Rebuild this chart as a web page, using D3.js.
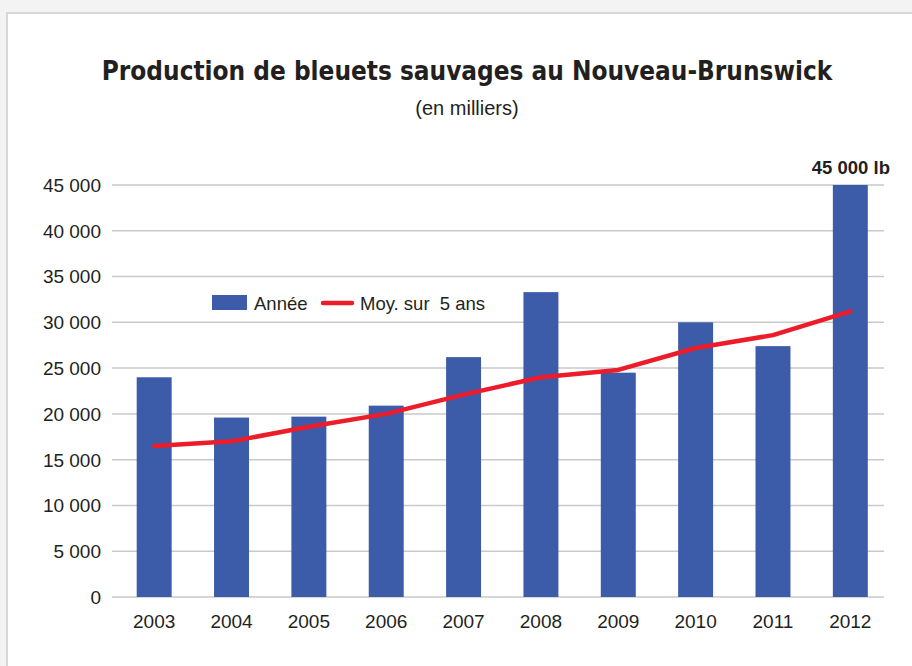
<!DOCTYPE html>
<html><head><meta charset="utf-8">
<script src="https://cdn.jsdelivr.net/npm/d3@7"></script>
<style>
html,body{margin:0;padding:0;background:#f3f3f4;}
svg{display:block;}
</style></head>
<body>
<svg id="chart" width="912" height="666"></svg>
<script>
const years = ["2003","2004","2005","2006","2007","2008","2009","2010","2011","2012"];
const annee = [24000,19600,19700,20900,26200,33300,24500,30000,27400,45000];
const moyenne = [16500,17000,18600,20000,22100,24000,24800,27200,28600,31200];
const yTicks = [0,5000,10000,15000,20000,25000,30000,35000,40000,45000];
const titleText = "Production de bleuets sauvages au Nouveau-Brunswick";
const subtitleText = "(en milliers)";
const topLabel = "45 000 lb";
const legendLabels = ["Année","Moy. sur  5 ans"];

const svg = d3.select("#chart");
// panel
svg.append("rect").attr("x",7).attr("y",13).attr("width",940).attr("height",700)
  .attr("fill","#ffffff").attr("stroke","#d6d7da").attr("stroke-width",2);

const x = d3.scaleBand().domain(years).range([115.5,889]).paddingInner(0.548).paddingOuter(0.274);
const y = d3.scaleLinear().domain([0,45000]).range([597,185]);
const fmt = v => d3.format(",")(v).replace(/,/g," ");

// grid
svg.append("g").selectAll("line").data(yTicks).join("line")
  .attr("x1",112).attr("x2",884)
  .attr("y1",d=>y(d)).attr("y2",d=>y(d))
  .attr("stroke","#c9c9c9").attr("stroke-width",1.5);

// y labels
svg.append("g").selectAll("text").data(yTicks).join("text")
  .attr("x",101).attr("y",d=>y(d)).attr("dy","0.36em")
  .attr("text-anchor","end")
  .attr("font-family","'Liberation Sans', Arial, sans-serif")
  .attr("font-size",19).attr("fill","#231f20")
  .text(d=>fmt(d));

// bars
svg.append("g").selectAll("rect").data(annee).join("rect")
  .attr("x",(d,i)=>x(years[i])).attr("width",x.bandwidth())
  .attr("y",d=>y(d)).attr("height",d=>y(0)-y(d))
  .attr("fill","#3c5ba8");

// line
const line = d3.line().x((d,i)=>x(years[i])+x.bandwidth()/2).y(d=>y(d));
svg.append("path").datum(moyenne).attr("d",line)
  .attr("fill","none").attr("stroke","#ec1c2a").attr("stroke-width",4.5)
  .attr("stroke-linecap","round").attr("stroke-linejoin","round");

// x labels
svg.append("g").selectAll("text").data(years).join("text")
  .attr("x",d=>x(d)+x.bandwidth()/2).attr("y",628)
  .attr("text-anchor","middle")
  .attr("font-family","'Liberation Sans', Arial, sans-serif")
  .attr("font-size",19).attr("fill","#231f20")
  .text(d=>d);

// title (font size fitted to target width)
const title = svg.append("text").attr("x",467).attr("y",80).attr("text-anchor","middle")
  .attr("font-family","'DejaVu Sans Condensed','Liberation Sans Narrow', sans-serif")
  .attr("font-weight","bold").attr("font-size",30).attr("fill","#231f20")
  .text(titleText);
const tw = title.node().getComputedTextLength();
if (tw > 0) title.attr("font-size", Math.min(31, 30*731/tw));

svg.append("text").attr("x",467).attr("y",115).attr("text-anchor","middle")
  .attr("font-family","'Liberation Sans', sans-serif")
  .attr("font-size",20).attr("fill","#231f20")
  .text(subtitleText);

// top label
svg.append("text").attr("x",890).attr("y",174).attr("text-anchor","end")
  .attr("font-family","'Liberation Sans', Arial, sans-serif")
  .attr("font-weight","bold").attr("font-size",18.5).attr("fill","#231f20")
  .text(topLabel);

// legend
const lg = svg.append("g");
lg.append("rect").attr("x",212).attr("y",295).attr("width",35).attr("height",15).attr("fill","#3c5ba8");
lg.append("text").attr("x",254).attr("y",310)
  .attr("font-family","'Liberation Sans', Arial, sans-serif").attr("font-size",18.5).attr("fill","#231f20")
  .style("white-space","pre").text(legendLabels[0]);
lg.append("line").attr("x1",323).attr("x2",352).attr("y1",303).attr("y2",303)
  .attr("stroke","#ec1c2a").attr("stroke-width",4.5).attr("stroke-linecap","round");
lg.append("text").attr("x",360).attr("y",310)
  .attr("font-family","'Liberation Sans', Arial, sans-serif").attr("font-size",18.5).attr("fill","#231f20")
  .style("white-space","pre").text(legendLabels[1]);
</script>
</body></html>
